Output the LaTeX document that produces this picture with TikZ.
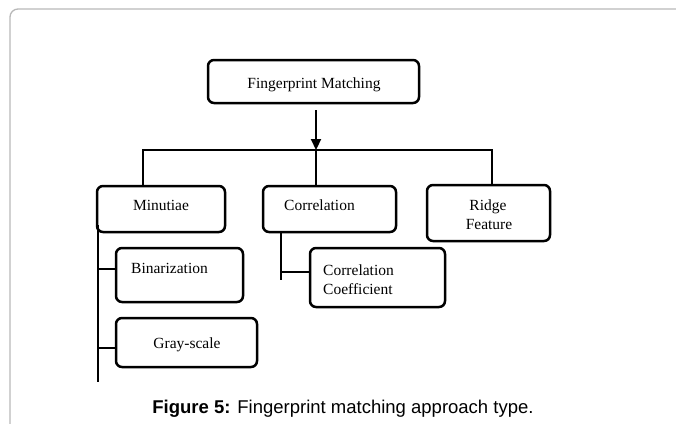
\documentclass[tikz,border=0pt]{standalone}
\usepackage{fontspec}
\setmainfont{Liberation Serif}
\newfontfamily\capfont{Liberation Sans}
\usetikzlibrary{arrows.meta}
\tikzset{
  box/.style={draw=black, line width=2.5pt, rounded corners=6pt, inner sep=0pt},
  conn/.style={draw=black, line width=2.2pt},
  lbl/.style={font=\fontsize{15.5}{18}\selectfont, inner sep=0pt},
}
\begin{document}
\begin{tikzpicture}[x=1pt,y=-1pt]
\clip (0,0) rectangle (676,423);
\draw[color=black!28, line width=1.3pt, rounded corners=8pt] (10,440) -- (10,9) -- (700,9);
% boxes
\node[box, minimum width=211pt, minimum height=43pt] (fm) at (313.5,81.5) {};
\node[box, minimum width=128pt, minimum height=46pt] (mbox) at (161,209) {};
\node[box, minimum width=133pt, minimum height=46pt] (cbox) at (329.5,209) {};
\node[box, minimum width=123pt, minimum height=56pt] (rbox) at (488.5,213) {};
\node[box, minimum width=127pt, minimum height=54pt] (bbox) at (179.5,275) {};
\node[box, minimum width=141pt, minimum height=49pt] (gbox) at (186.5,342.5) {};
\node[box, minimum width=135pt, minimum height=59pt] (ccbox) at (377.5,277.5) {};
% texts
\node[lbl, anchor=base] (tfm) at (314,88) {Fingerprint Matching};
\node[lbl, anchor=base] (tm) at (161,210) {Minutiae};
\node[lbl, anchor=base west] (tc) at (284,210) {Correlation};
\node[lbl, anchor=base] (tr1) at (488,210) {Ridge};
\node[lbl, anchor=base] (tr2) at (489,229) {Feature};
\node[lbl, anchor=base west] (tb) at (131,273) {Binarization};
\node[lbl, anchor=base] (tg) at (187,348) {Gray-scale};
\node[lbl, anchor=base west] (tcc1) at (323,275) {Correlation};
\node[lbl, anchor=base west] (tcc2) at (323,294) {Coefficient};
% connectors
\coordinate (hl) at (143,150);
\coordinate (hr) at (492,150);
\coordinate (mid) at (316,150);
\coordinate (mend) at (98,382);
\coordinate (cend) at (281,280);
\draw[conn, -{Triangle[width=10pt,length=11pt]}] ([yshift=-6pt]fm.south -| mid) -- (mid);
\draw[conn] (mbox.north -| hl) -- (hl) -- (hr) -- (rbox.north -| hr);
\draw[conn] (mid) -- (cbox.north -| mid);
\draw[conn] ([yshift=8pt]mbox.south -| mend) -- (mend);
\draw[conn] ([yshift=6pt]bbox.west) -- ([yshift=6pt]bbox.west -| mend);
\draw[conn] ([yshift=-5.5pt]gbox.west) -- ([yshift=-5.5pt]gbox.west -| mend);
\draw[conn] (cbox.south -| cend) -- (cend);
\draw[conn] ([yshift=5.5pt]ccbox.west) -- ([yshift=5.5pt]ccbox.west -| cend);
% caption
\node[font=\capfont\fontsize{18.5}{22}\selectfont, anchor=base, inner sep=0pt] (cap) at (343,413) {\textbf{Figure 5:} Fingerprint matching approach type.};
\end{tikzpicture}
\end{document}
